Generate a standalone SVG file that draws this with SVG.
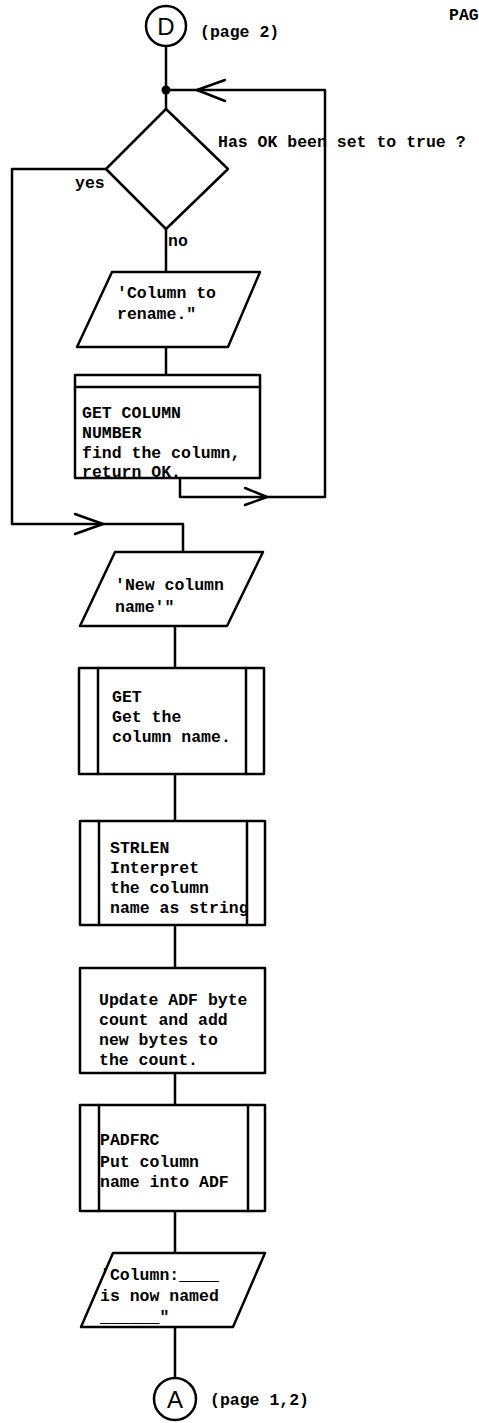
<svg xmlns="http://www.w3.org/2000/svg" width="479" height="1423" viewBox="0 0 479 1423">
<style>
.s{fill:none;stroke:#000;stroke-width:2.5;stroke-linejoin:round;stroke-linecap:round}
.f{fill:#fff;stroke:#000;stroke-width:2.5;stroke-linejoin:round}
.t{font-family:"Liberation Mono","DejaVu Sans Mono",monospace;font-weight:bold;font-size:16.5px;fill:#000}
.c{font-family:"Liberation Sans","DejaVu Sans",sans-serif;font-size:24px;fill:#000}
</style>
<rect width="479" height="1423" fill="#fff"/>
<g id="connectors">
<path class="s" d="M166 46 V109"/>
<circle cx="166" cy="90" r="4.5" fill="#000"/>
<path class="s" d="M166 90 H325 V497 H180 V478"/>
<path class="s" d="M225 80 L197 90 L225 101"/>
<path class="s" d="M245 488 L267 497 L245 505"/>
<path class="s" d="M106 169 H12 V524 H183 V552"/>
<path class="s" d="M75 514 L103 524 L75 534"/>
<path class="s" d="M166 229 V272"/>
<path class="s" d="M166 347 V375"/>
<path class="s" d="M175 626 V668"/>
<path class="s" d="M175 774 V821"/>
<path class="s" d="M175 925 V968"/>
<path class="s" d="M175 1073 V1105"/>
<path class="s" d="M175 1211 V1253"/>
<path class="s" d="M175 1327 V1378"/>
</g>
<g id="pagehdr"><text class="t" x="449" y="20" font-size="12">PAG</text></g>
<g id="connD">
<circle class="f" cx="166" cy="26" r="20"/>
<text class="c" x="166" y="35" text-anchor="middle">D</text>
<text class="t" x="200" y="37">(page 2)</text>
</g>
<g id="decision">
<path class="f" d="M166 109 L228 169 L166 229 L106 169 Z"/>
<text class="t" x="218" y="147">Has OK been set to true ?</text>
<text class="t" x="75" y="188">yes</text>
<text class="t" x="168" y="246">no</text>
</g>
<g id="io1">
<path class="f" d="M112 272 H260 L228 347 H77 Z"/>
<text class="t" x="117" y="298">'Column to</text>
<text class="t" x="117" y="319">rename."</text>
</g>
<g id="getcolnum">
<rect class="f" x="75" y="375" width="185" height="103"/>
<path class="s" d="M75 387 H260"/>
<text class="t" x="82" y="418">GET COLUMN</text>
<text class="t" x="82" y="438">NUMBER</text>
<text class="t" x="82" y="458">find the column,</text>
<text class="t" x="82" y="477">return OK.</text>
</g>
<g id="io2">
<path class="f" d="M115 552 H263 L227 626 H80 Z"/>
<text class="t" x="115" y="590">'New column</text>
<text class="t" x="115" y="612">name'"</text>
</g>
<g id="get">
<rect class="f" x="79" y="668" width="185" height="106"/>
<path class="s" d="M98 668 V774 M246 668 V774"/>
<text class="t" x="112" y="702">GET</text>
<text class="t" x="112" y="722">Get the</text>
<text class="t" x="112" y="742">column name.</text>
</g>
<g id="strlen">
<rect class="f" x="80" y="821" width="185" height="104"/>
<path class="s" d="M99 821 V925 M247 821 V925"/>
<text class="t" x="110" y="853">STRLEN</text>
<text class="t" x="110" y="873">Interpret</text>
<text class="t" x="110" y="893">the column</text>
<text class="t" x="110" y="913">name as string</text>
</g>
<g id="update">
<rect class="f" x="80" y="968" width="185" height="105"/>
<text class="t" x="99" y="1005">Update ADF byte</text>
<text class="t" x="99" y="1025">count and add</text>
<text class="t" x="99" y="1045">new bytes to</text>
<text class="t" x="99" y="1065">the count.</text>
</g>
<g id="padfrc">
<rect class="f" x="80" y="1105" width="185" height="106"/>
<path class="s" d="M99 1105 V1211 M248 1105 V1211"/>
<text class="t" x="100" y="1145">PADFRC</text>
<text class="t" x="100" y="1167">Put column</text>
<text class="t" x="100" y="1187">name into ADF</text>
</g>
<g id="io3">
<path class="f" d="M113 1253 H265 L233 1327 H81 Z"/>
<text class="t" x="100" y="1280">'Column:____</text>
<text class="t" x="100" y="1301">is now named</text>
<text class="t" x="100" y="1322">______"</text>
</g>
<g id="connA">
<circle class="f" cx="175" cy="1399" r="21"/>
<text class="c" x="175" y="1408" text-anchor="middle">A</text>
<text class="t" x="210" y="1405">(page 1,2)</text>
</g>
</svg>
